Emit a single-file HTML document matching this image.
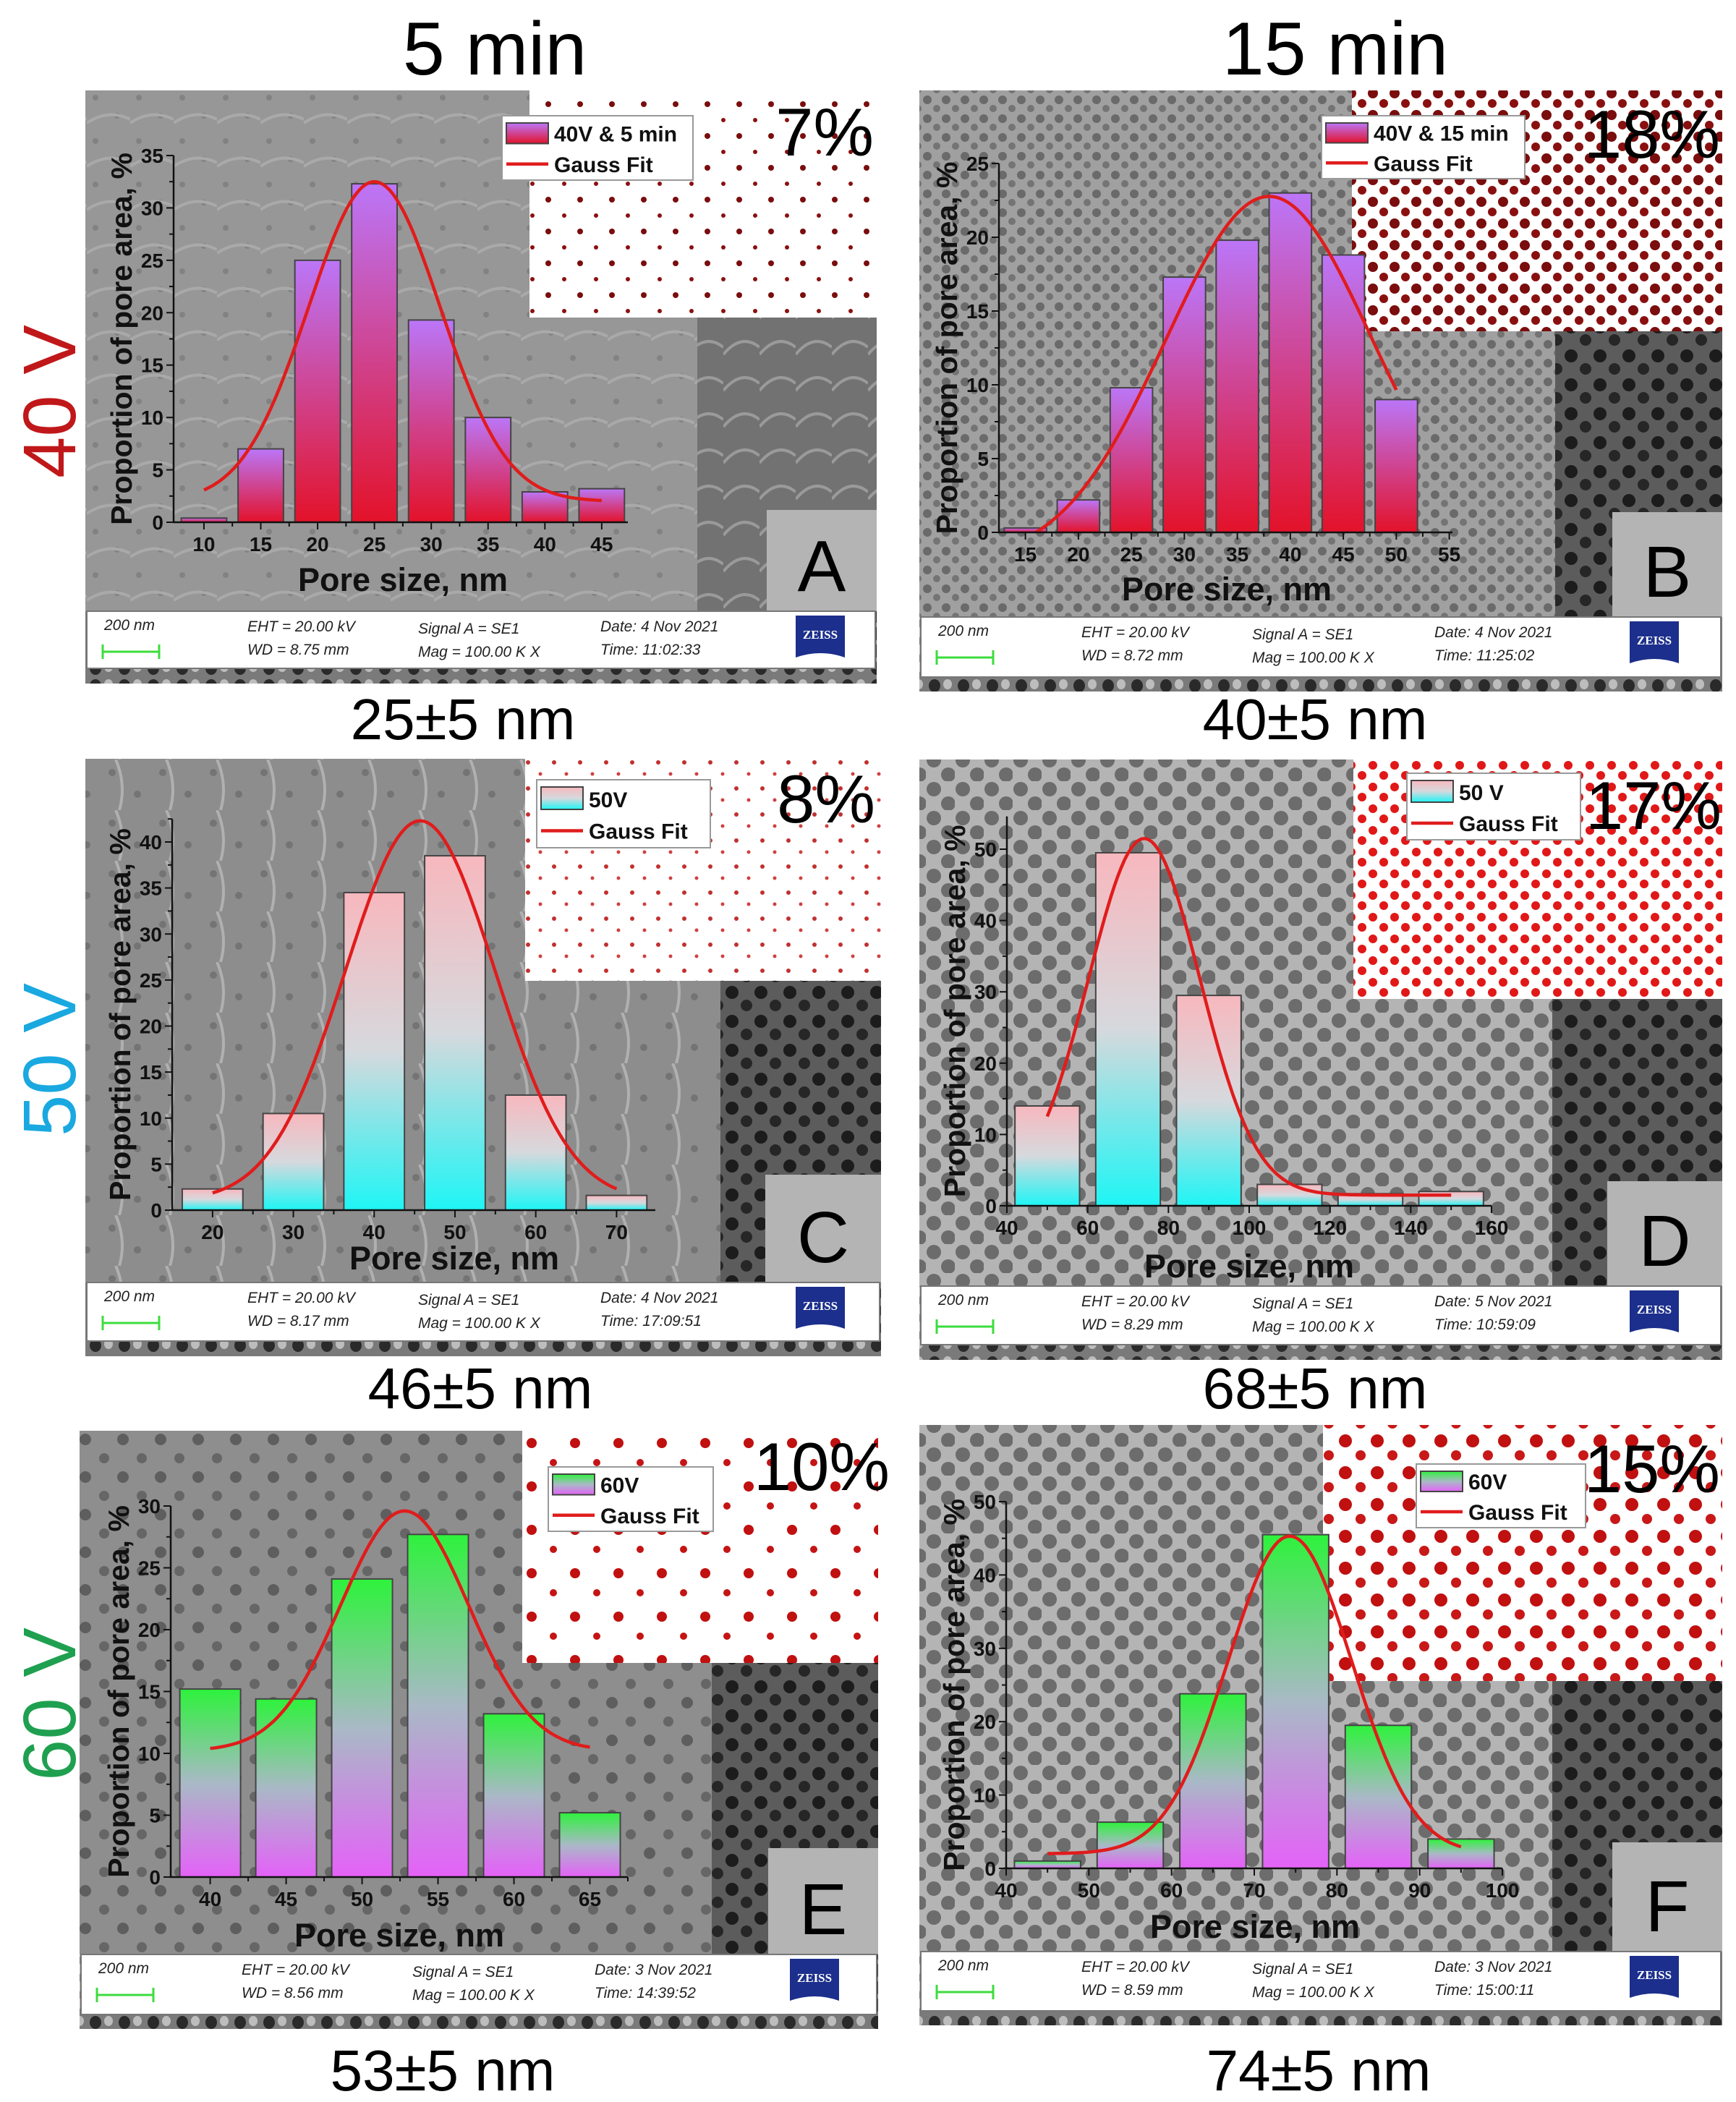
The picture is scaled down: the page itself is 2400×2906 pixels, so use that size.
<!DOCTYPE html>
<html><head><meta charset="utf-8"><title>Pore size distributions</title>
<style>
html,body{margin:0;padding:0;background:#fff;}
svg{display:block;font-family:"Liberation Sans",sans-serif;}
</style></head>
<body>
<svg id="fig" width="2400" height="2906" viewBox="0 0 2400 2906" xmlns="http://www.w3.org/2000/svg">
<defs>
  <linearGradient id="gPurple" x1="0" y1="0" x2="0" y2="1"><stop offset="0" stop-color="#bb76f8"/><stop offset="1" stop-color="#e3122a"/></linearGradient>
  <linearGradient id="gCyan" x1="0" y1="0" x2="0" y2="1"><stop offset="0" stop-color="#f7b8be"/><stop offset="0.5" stop-color="#d6d9dd"/><stop offset="1" stop-color="#1ff5f5"/></linearGradient>
  <linearGradient id="gGreen" x1="0" y1="0" x2="0" y2="1"><stop offset="0" stop-color="#2ef23c"/><stop offset="0.5" stop-color="#a9b9c6"/><stop offset="1" stop-color="#e462f8"/></linearGradient>
  <pattern id="pStreak" width="60" height="60" patternUnits="userSpaceOnUse"><rect width="60" height="60" fill="#979797"/><circle cx="12" cy="15" r="4" fill="#828282"/><circle cx="42" cy="40" r="4" fill="#828282"/><path d="M0 50 Q30 30 60 45" stroke="#a9a9a9" stroke-width="4" fill="none"/></pattern>
  <pattern id="pStreakC" width="70" height="70" patternUnits="userSpaceOnUse"><rect width="70" height="70" fill="#8d8d8d"/><circle cx="15" cy="18" r="5" fill="#747474"/><circle cx="50" cy="48" r="5" fill="#747474"/><path d="M20 0 Q35 35 25 70" stroke="#b0b0b0" stroke-width="4" fill="none"/></pattern>
  <pattern id="pDotsB" width="26" height="26" patternUnits="userSpaceOnUse"><rect width="26" height="26" fill="#a0a0a0"/><circle cx="8" cy="8" r="6" fill="#6a6a6a"/><circle cx="21" cy="20" r="5" fill="#747474"/></pattern>
  <pattern id="pDotsD" width="40" height="40" patternUnits="userSpaceOnUse"><rect width="40" height="40" fill="#b4b4b4"/><circle cx="11" cy="11" r="10" fill="#6c6c6c"/><circle cx="31" cy="31" r="10" fill="#6c6c6c"/></pattern>
  <pattern id="pDotsE" width="52" height="52" patternUnits="userSpaceOnUse"><rect width="52" height="52" fill="#8e8e8e"/><circle cx="14" cy="14" r="8" fill="#5e5e5e"/><circle cx="40" cy="40" r="7" fill="#666"/></pattern>
  <pattern id="pDark" width="40" height="40" patternUnits="userSpaceOnUse"><rect width="40" height="40" fill="#5c5c5c"/><circle cx="12" cy="12" r="9" fill="#1c1c1c"/><circle cx="32" cy="30" r="8" fill="#262626"/></pattern>
  <pattern id="pDarkA" width="50" height="50" patternUnits="userSpaceOnUse"><rect width="50" height="50" fill="#727272"/><path d="M0 40 Q25 10 50 30" stroke="#9a9a9a" stroke-width="4" fill="none"/></pattern>
  <pattern id="pRedDark" width="44" height="44" patternUnits="userSpaceOnUse"><rect width="44" height="44" fill="#fff"/><circle cx="10" cy="12" r="4" fill="#7a0d0d"/><circle cx="32" cy="34" r="3" fill="#8a1010"/></pattern>
  <pattern id="pRedDarkB" width="30" height="30" patternUnits="userSpaceOnUse"><rect width="30" height="30" fill="#fff"/><circle cx="8" cy="9" r="7" fill="#7a0d0d"/><circle cx="23" cy="23" r="6" fill="#8a1010"/></pattern>
  <pattern id="pRedC" width="36" height="36" patternUnits="userSpaceOnUse"><rect width="36" height="36" fill="#fff"/><circle cx="10" cy="10" r="3" fill="#c23030"/><circle cx="27" cy="26" r="2.5" fill="#d04040"/></pattern>
  <pattern id="pRedD" width="30" height="30" patternUnits="userSpaceOnUse"><rect width="30" height="30" fill="#fff"/><circle cx="8" cy="8" r="6" fill="#e01818"/><circle cx="23" cy="22" r="6" fill="#e01818"/></pattern>
  <pattern id="pRedE" width="60" height="60" patternUnits="userSpaceOnUse"><rect width="60" height="60" fill="#fff"/><circle cx="15" cy="15" r="7" fill="#c01010"/><circle cx="45" cy="42" r="5" fill="#c41414"/></pattern>
  <pattern id="pRedF" width="44" height="44" patternUnits="userSpaceOnUse"><rect width="44" height="44" fill="#fff"/><circle cx="12" cy="12" r="9" fill="#c01010"/><circle cx="33" cy="32" r="7" fill="#c81818"/></pattern>
  <pattern id="pStrip" width="40" height="24" patternUnits="userSpaceOnUse"><rect width="40" height="24" fill="#7a7a7a"/><ellipse cx="12" cy="12" rx="8" ry="9" fill="#2a2a2a"/><ellipse cx="30" cy="10" rx="6" ry="7" fill="#bdbdbd"/></pattern>
</defs>
<g id="root"></g>
</svg>
<script>
// ---------- Panel A (40 V, 5 min) ----------
const sizesA = [10, 15, 20, 25, 30, 35, 40, 45];
const propA = [0.4, 7.0, 25.0, 32.3, 19.3, 10.0, 2.9, 3.2];
const xTicksA = [10, 15, 20, 25, 30, 35, 40, 45];
const yTicksA = [0, 5, 10, 15, 20, 25, 30, 35];
const fitA = [25, 5.8, 30.5, 2.0];      // center, sigma, amplitude, offset
const fitRangeA = [10, 45];
// ---------- Panel B (40 V, 15 min) ----------
const sizesB = [15, 20, 25, 30, 35, 40, 45, 50];
const propB = [0.3, 2.2, 9.8, 17.3, 19.8, 23.0, 18.8, 9.0];
const xTicksB = [15, 20, 25, 30, 35, 40, 45, 50, 55];
const yTicksB = [0, 5, 10, 15, 20, 25];
const fitB = [38, 9.75, 24.7, -1.93];
const fitRangeB = [16, 50];
// ---------- Panel C (50 V, 5 min) ----------
const sizesC = [20, 30, 40, 50, 60, 70];
const propC = [2.3, 10.5, 34.5, 38.5, 12.5, 1.6];
const xTicksC = [20, 30, 40, 50, 60, 70];
const yTicksC = [0, 5, 10, 15, 20, 25, 30, 35, 40];
const fitC = [45.7, 9.25, 41.3, 1.0];
const fitRangeC = [20, 70];
// ---------- Panel D (50 V, 15 min) ----------
const sizesD = [50, 70, 90, 110, 130, 150];
const propD = [14.0, 49.5, 29.5, 3.0, 1.7, 2.0];
const xTicksD = [40, 60, 80, 100, 120, 140, 160];
const yTicksD = [0, 10, 20, 30, 40, 50];
const fitD = [74, 13.8, 50, 1.5];
const fitRangeD = [50, 150];
// ---------- Panel E (60 V, 5 min) ----------
const sizesE = [40, 45, 50, 55, 60, 65];
const propE = [15.2, 14.4, 24.1, 27.7, 13.2, 5.2];
const xTicksE = [40, 45, 50, 55, 60, 65];
const yTicksE = [0, 5, 10, 15, 20, 25, 30];
const fitE = [52.8, 4.22, 19.4, 10.2];
const fitRangeE = [40, 65];
// ---------- Panel F (60 V, 15 min) ----------
const sizesF = [45, 55, 65, 75, 85, 95];
const propF = [1.0, 6.3, 23.8, 45.5, 19.5, 4.0];
const xTicksF = [40, 50, 60, 70, 80, 90, 100];
const yTicksF = [0, 10, 20, 30, 40, 50];
const fitF = [74.3, 7.48, 43.3, 2.0];
const fitRangeF = [45, 95];

const NS = "http://www.w3.org/2000/svg";
const root = document.getElementById("root");
function mk(tag, attrs, parent) {
  const e = document.createElementNS(NS, tag);
  for (const k in attrs) e.setAttribute(k, attrs[k]);
  (parent || root).appendChild(e);
  return e;
}
function txt(str, attrs, parent) {
  const e = mk("text", attrs, parent);
  e.textContent = str;
  return e;
}

let t;
t = txt("5 min", {x: 684, y: 103, "font-size": 104, "text-anchor": "middle", fill: "#000"});


t = txt("15 min", {x: 1846, y: 103, "font-size": 104, "text-anchor": "middle", fill: "#000"});


t = txt("40 V", {x: 0, y: 0, "font-size": 103, "text-anchor": "middle", fill: "#c0181a", transform: "translate(104,555) rotate(-90)"});


t = txt("50 V", {x: 0, y: 0, "font-size": 103, "text-anchor": "middle", fill: "#1aa8e0", transform: "translate(104,1465) rotate(-90)"});


t = txt("60 V", {x: 0, y: 0, "font-size": 103, "text-anchor": "middle", fill: "#1fa050", transform: "translate(104,2356) rotate(-90)"});



const panels = [
  {id: "A", L: 118, T: 125, R: 1212, B: 945, footT: 845, footB: 924,
   bg: "pStreak", inset: [732, 125, 1212, 439], insetFill: "pRedDark", dark: [964, 439, 1212, 845], darkFill: "pDarkA",
   letter: [1060, 705], pct: "7%", pctX: 1208, pctY: 215,
   ax: {x0: 240, x1: 868, y0: 722, y1: 215, dmin: 7.33, dmax: 47.3, ymax: 35}, barW: 4,
   sizes: sizesA, vals: propA, xt: xTicksA, yt: yTicksA, fit: fitA, fr: fitRangeA, grad: "gPurple",
   leg: [694, 160, 958, 249], legName: "40V & 5 min", xTitleX: 557, xTitleOff: 95,
   info: ["8.75", "4 Nov 2021", "11:02:33"], sub: "25±5 nm", subX: 640, subY: 1022},
  {id: "B", L: 1271, T: 125, R: 2381, B: 956, footT: 853, footB: 936,
   bg: "pDotsB", inset: [1869, 125, 2381, 458], insetFill: "pRedDarkB", dark: [2150, 458, 2381, 853], darkFill: "pDark",
   letter: [2229, 708], pct: "18%", pctX: 2378, pctY: 218,
   ax: {x0: 1381, x1: 2008, y0: 736, y1: 226, dmin: 12.5, dmax: 55.3, ymax: 25}, barW: 4,
   sizes: sizesB, vals: propB, xt: xTicksB, yt: yTicksB, fit: fitB, fr: fitRangeB, grad: "gPurple",
   leg: [1827, 160, 2108, 247], legName: "40V & 15 min", xTitleX: 1696, xTitleOff: 94,
   info: ["8.72", "4 Nov 2021", "11:25:02"], sub: "40±5 nm", subX: 1818, subY: 1022},
  {id: "C", L: 118, T: 1049, R: 1218, B: 1875, footT: 1773, footB: 1854,
   bg: "pStreakC", inset: [726, 1049, 1218, 1356], insetFill: "pRedC", dark: [996, 1356, 1218, 1773], darkFill: "pDark",
   letter: [1058, 1624], pct: "8%", pctX: 1210, pctY: 1137,
   ax: {x0: 238, x1: 906, y0: 1673, y1: 1164, dmin: 15, dmax: 74.8, ymax: 40}, axTop: 42.5, barW: 7.5,
   sizes: sizesC, vals: propC, xt: xTicksC, yt: yTicksC, fit: fitC, fr: fitRangeC, grad: "gCyan",
   leg: [742, 1078, 982, 1172], legName: "50V", xTitleX: 628, xTitleOff: 82,
   info: ["8.17", "4 Nov 2021", "17:09:51"], sub: "46±5 nm", subX: 664, subY: 1947},
  {id: "D", L: 1271, T: 1050, R: 2381, B: 1880, footT: 1778, footB: 1859,
   bg: "pDotsD", inset: [1871, 1050, 2381, 1381], insetFill: "pRedD", dark: [2146, 1381, 2381, 1778], darkFill: "pDark",
   letter: [2222, 1633], pct: "17%", pctX: 2380, pctY: 1146,
   ax: {x0: 1392, x1: 2062, y0: 1667, y1: 1174, dmin: 40, dmax: 160, ymax: 50}, axTop: 54.6, barW: 16,
   sizes: sizesD, vals: propD, xt: xTicksD, yt: yTicksD, fit: fitD, fr: fitRangeD, grad: "gCyan",
   leg: [1945, 1069, 2185, 1161], legName: "50 V", xTitleX: 1727, xTitleOff: 99,
   info: ["8.29", "5 Nov 2021", "10:59:09"], sub: "68±5 nm", subX: 1818, subY: 1947},
  {id: "E", L: 110, T: 1978, R: 1214, B: 2805, footT: 2702, footB: 2785,
   bg: "pDotsE", inset: [722, 1978, 1214, 2299], insetFill: "pRedE", dark: [984, 2299, 1214, 2702], darkFill: "pDark",
   letter: [1062, 2555], pct: "10%", pctX: 1230, pctY: 2060,
   ax: {x0: 236, x1: 868, y0: 2595, y1: 2082, dmin: 37.4, dmax: 67.5, ymax: 30}, barW: 4,
   sizes: sizesE, vals: propE, xt: xTicksE, yt: yTicksE, fit: fitE, fr: fitRangeE, grad: "gGreen",
   leg: [758, 2028, 986, 2117], legName: "60V", xTitleX: 552, xTitleOff: 96,
   info: ["8.56", "3 Nov 2021", "14:39:52"], sub: "53±5 nm", subX: 612, subY: 2890},
  {id: "F", L: 1271, T: 1970, R: 2381, B: 2800, footT: 2698, footB: 2780,
   bg: "pDotsD", inset: [1829, 1970, 2381, 2324], insetFill: "pRedF", dark: [2146, 2324, 2381, 2698], darkFill: "pDark",
   letter: [2229, 2547], pct: "15%", pctX: 2378, pctY: 2063,
   ax: {x0: 1391, x1: 2077, y0: 2583, y1: 2076, dmin: 40, dmax: 100, ymax: 50}, barW: 8,
   sizes: sizesF, vals: propF, xt: xTicksF, yt: yTicksF, fit: fitF, fr: fitRangeF, grad: "gGreen",
   leg: [1958, 2024, 2192, 2112], legName: "60V", xTitleX: 1735, xTitleOff: 96,
   info: ["8.59", "3 Nov 2021", "15:00:11"], sub: "74±5 nm", subX: 1823, subY: 2890}
];

function drawPanel(p) {
  const g = mk("g", {});
  
  
  let r = mk("rect", {x: p.L, y: p.T, width: p.R - p.L, height: p.B - p.T, fill: "url(#pStrip)"}, g);
  
  
  r = mk("rect", {x: p.L, y: p.T, width: p.R - p.L, height: p.footT - p.T, fill: "url(#" + p.bg + ")"}, g);
  
  
  r = mk("rect", {x: p.inset[0], y: p.inset[1], width: p.inset[2] - p.inset[0], height: p.inset[3] - p.inset[1], fill: "url(#" + p.insetFill + ")"}, g);
  
  
  r = mk("rect", {x: p.dark[0], y: p.dark[1], width: p.dark[2] - p.dark[0], height: p.dark[3] - p.dark[1], fill: "url(#" + p.darkFill + ")"}, g);
  
  
  r = mk("rect", {x: p.letter[0], y: p.letter[1], width: p.R - p.letter[0], height: p.footT - p.letter[1], fill: "#b4b4b4"}, g);
  
  
  let tt = txt(p.id, {x: (p.letter[0] + p.R) / 2, y: p.footT - 28, "font-size": 100, "text-anchor": "middle", fill: "#000"}, g);
  
  
  tt = txt(p.pct, {x: p.pctX, y: p.pctY, "font-size": 94, "text-anchor": "end", fill: "#000"}, g);
  
  

  const fx = p.L + 2, fy = p.footT, fw = p.R - p.L - 4, fh = p.footB - p.footT;
  r = mk("rect", {x: fx, y: fy, width: fw, height: fh, fill: "#fff", stroke: "#777", "stroke-width": 2}, g);
  
  
  const fs = {"font-size": 21, "font-style": "italic", fill: "#222"};
  const items = [["200 nm", 24, 26], ["EHT = 20.00 kV", 222, 28], ["WD = " + p.info[0] + " mm", 222, 60],
    ["Signal A = SE1", 458, 31], ["Mag =  100.00 K X", 458, 63], ["Date: " + p.info[1], 710, 28], ["Time: " + p.info[2], 710, 60]];
  for (const it of items) {
    const e = txt(it[0], Object.assign({x: fx + it[1], y: fy + it[2]}, fs), g);
    
    
  }
  const sb = mk("path", {d: `M${fx+22} ${fy+46}v20M${fx+22} ${fy+56}H${fx+100}M${fx+100} ${fy+46}v20`, stroke: "#3ddc3d", "stroke-width": 3, fill: "none"}, g);
  
  
  const lx = fx + 980;
  const logo = mk("path", {d: `M${lx} ${fy+6}H${lx+68}V${fy+64}Q${lx+34} ${fy+52} ${lx} ${fy+64}Z`, fill: "#1c2f8c"}, g);
  
  
  tt = txt("ZEISS", {x: lx + 34, y: fy + 38, "font-size": 17, "font-weight": "bold", "text-anchor": "middle", fill: "#fff", "font-family": "Liberation Serif, serif"}, g);
  
  

  tt = txt(p.sub, {x: p.subX, y: p.subY, "font-size": 80, "text-anchor": "middle", fill: "#000"});
  
  

  const a = p.ax;
  const sx = v => a.x0 + (v - a.dmin) / (a.dmax - a.dmin) * (a.x1 - a.x0);
  const sy = v => a.y0 - v / a.ymax * (a.y0 - a.y1);
  const cg = mk("g", {}, g);
  
  
  for (let i = 0; i < p.sizes.length; i++) {
    const x = sx(p.sizes[i] - p.barW / 2), w = sx(p.sizes[i] + p.barW / 2) - x;
    const y = sy(p.vals[i]);
    const b = mk("rect", {x: x, y: y, width: w, height: a.y0 - y, fill: "url(#" + p.grad + ")", stroke: "#444", "stroke-width": 2}, cg);
    
    
  }
  let d = "";
  const n = 120;
  for (let k = 0; k <= n; k++) {
    const xv = p.fr[0] + (p.fr[1] - p.fr[0]) * k / n;
    const yv = p.fit[3] + p.fit[2] * Math.exp(-Math.pow(xv - p.fit[0], 2) / (2 * p.fit[1] * p.fit[1]));
    d += (k ? "L" : "M") + sx(xv).toFixed(1) + " " + sy(yv).toFixed(1);
  }
  const fc = mk("path", {d: d, stroke: "#e01c1c", "stroke-width": 4.5, fill: "none"}, cg);
  
  
  const topV = p.axTop || a.ymax;
  const axl = mk("path", {d: `M${a.x0} ${sy(topV)}V${a.y0}H${a.x1}`, stroke: "#111", "stroke-width": 2.5, fill: "none"}, cg);
  
  
  const ystep = p.yt[1] - p.yt[0];
  for (const v of p.yt) {
    const y = sy(v);
    const tk = mk("path", {d: `M${a.x0 - 10} ${y}H${a.x0}`, stroke: "#111", "stroke-width": 2}, cg);
    
    
    if (v + ystep / 2 <= topV) {
      const mt = mk("path", {d: `M${a.x0 - 6} ${sy(v + ystep / 2)}H${a.x0}`, stroke: "#111", "stroke-width": 2}, cg);
      
      
    }
    const lb = txt(String(v), {x: a.x0 - 14, y: y + 10, "font-size": 28, "font-weight": "bold", "text-anchor": "end", fill: "#111"}, cg);
    
    
  }
  const xstep = p.xt[1] - p.xt[0];
  for (const v of p.xt) {
    const x = sx(v);
    const tk = mk("path", {d: `M${x} ${a.y0}V${a.y0 + 10}`, stroke: "#111", "stroke-width": 2}, cg);
    
    
    if (v + xstep / 2 <= a.dmax) {
      const mt = mk("path", {d: `M${sx(v + xstep / 2)} ${a.y0}V${a.y0 + 6}`, stroke: "#111", "stroke-width": 2}, cg);
      
      
    }
    const lb = txt(String(v), {x: x, y: a.y0 + 40, "font-size": 28, "font-weight": "bold", "text-anchor": "middle", fill: "#111"}, cg);
    
    
  }
  const yc = (a.y0 + sy(topV)) / 2;
  let at = txt("Proportion of pore area, %", {x: 0, y: 0, "font-size": 41, "font-weight": "bold", "text-anchor": "middle", fill: "#111", transform: `translate(${a.x0 - 58},${yc}) rotate(-90)`}, cg);
  
  
  at = txt("Pore size, nm", {x: p.xTitleX, y: a.y0 + p.xTitleOff, "font-size": 45, "font-weight": "bold", "text-anchor": "middle", fill: "#111"}, cg);
  
  

  const L = p.leg;
  const lg = mk("g", {}, cg);
  
  
  r = mk("rect", {x: L[0], y: L[1], width: L[2] - L[0], height: L[3] - L[1], fill: "#fff", stroke: "#999", "stroke-width": 2}, lg);
  
  
  const hh = (L[3] - L[1]) / 2;
  r = mk("rect", {x: L[0] + 6, y: L[1] + 10, width: 58, height: hh - 16, fill: "url(#" + p.grad + ")", stroke: "#444", "stroke-width": 2}, lg);
  
  
  tt = txt(p.legName, {x: L[0] + 72, y: L[1] + hh - 9, "font-size": 30, "font-weight": "bold", fill: "#111"}, lg);
  
  
  r = mk("path", {d: `M${L[0] + 6} ${L[1] + hh * 1.5}H${L[0] + 64}`, stroke: "#e01c1c", "stroke-width": 4.5}, lg);
  
  
  tt = txt("Gauss Fit", {x: L[0] + 72, y: L[1] + hh * 1.5 + 11, "font-size": 30, "font-weight": "bold", fill: "#111"}, lg);
  
  
}
panels.forEach(drawPanel);
</script>
</body></html>
